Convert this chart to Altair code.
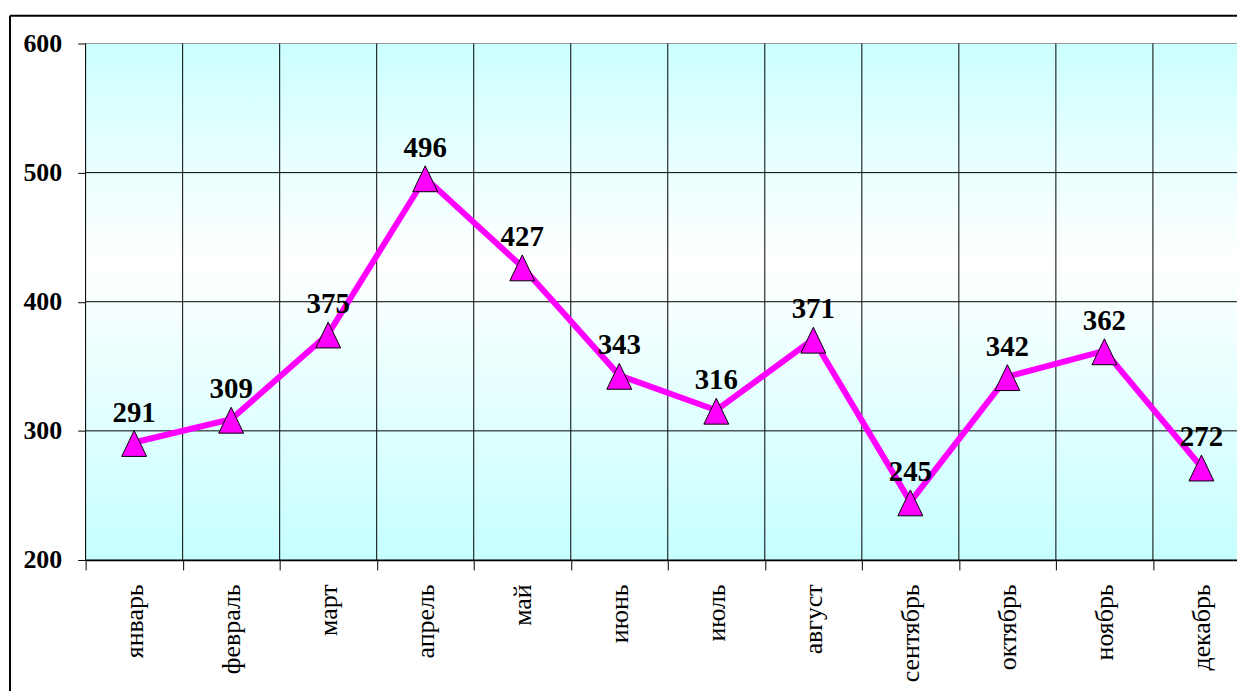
import altair as alt
import pandas as pd

months = ["январь", "февраль", "март", "апрель", "май", "июнь",
          "июль", "август", "сентябрь", "октябрь", "ноябрь", "декабрь"]
values = [291, 309, 375, 496, 427, 343, 316, 371, 245, 342, 362, 272]
y_ticks = [200, 300, 400, 500, 600]

df = pd.DataFrame({"month": months, "value": values})
grid_df = pd.DataFrame({"tick": y_ticks})
bg_df = pd.DataFrame({"lo": [200], "hi": [600]})

W = 1170
H = 519
SERIF = "Liberation Serif"

x_scale = alt.Scale(domain=months, paddingInner=0, paddingOuter=0)
x_axis = alt.Axis(title=None, labelAngle=270, labelFont=SERIF,
                  labelFontSize=26, labelColor="black",
                  labelPadding=14, tickSize=10, tickColor="black",
                  tickBand="extent", grid=False,
                  domainColor="black", domainWidth=1.5)
x_enc = alt.X("month:N", sort=months, scale=x_scale, axis=x_axis)

y_scale = alt.Scale(domain=[200, 600], nice=False, zero=False)
y_axis = alt.Axis(title=None, values=y_ticks, labelFont=SERIF,
                  labelFontSize=26, labelFontWeight="bold",
                  labelColor="black", labelPadding=16, tickSize=8,
                  tickColor="black", grid=False,
                  domainColor="#333", domainWidth=2)
y_enc = alt.Y("value:Q", scale=y_scale, axis=y_axis)

grad = alt.Gradient(
    gradient="linear", x1=0, y1=0, x2=0, y2=1,
    stops=[alt.GradientStop(offset=0, color="#ccffff"),
           alt.GradientStop(offset=0.42, color="#ffffff"),
           alt.GradientStop(offset=1, color="#c6ffff")])

bg = alt.Chart(bg_df).mark_rect(fill=grad).encode(
    x=alt.value(0), x2=alt.value(W),
    y=alt.Y("hi:Q", scale=y_scale, axis=y_axis), y2="lo:Q")

hgrid = alt.Chart(grid_df).mark_rule(strokeWidth=1).encode(
    y=alt.Y("tick:Q", scale=y_scale, axis=y_axis),
    color=alt.condition("datum.tick === 600", alt.value("#999999"),
                        alt.value("black")),
    x=alt.value(0), x2=alt.value(W))

vgrid = alt.Chart(df).mark_rule(color="black", strokeWidth=1).encode(
    x=alt.X("month:N", sort=months, scale=x_scale, axis=x_axis,
            bandPosition=0),
    y=alt.value(0), y2=alt.value(H))

base = alt.Chart(df)
line = base.mark_line(color="#ff00ff", strokeWidth=6).encode(x=x_enc, y=y_enc)
pts = base.mark_point(shape="M0,-0.96L-1,1.12L1,1.12Z", size=625, filled=True,
                      fill="#ff00ff", stroke="black", strokeWidth=1,
                      opacity=1).encode(x=x_enc, y=y_enc)
labels = base.mark_text(font=SERIF, fontSize=29, fontWeight="bold",
                        color="black", dy=-30).encode(
    x=x_enc, y=y_enc, text="value:Q")

border_v = alt.Chart(bg_df).mark_rule(color="black", strokeWidth=2).encode(
    x=alt.value(-76), y=alt.value(-28), y2=alt.value(800))
border_h = alt.Chart(bg_df).mark_rule(color="black", strokeWidth=2).encode(
    x=alt.value(-76), x2=alt.value(1400), y=alt.value(-28))

chart = alt.layer(bg, hgrid, vgrid, line, pts, labels, border_v, border_h).properties(
    width=W, height=H,
    autosize=alt.AutoSizeParams(type="none"),
    padding={"left": 78, "top": 34, "right": -13, "bottom": 130},
).configure_view(
    stroke="#999999", strokeWidth=2,
).configure(background="white")

chart.save("out.html", embed_options={"renderer": "svg", "actions": False})
